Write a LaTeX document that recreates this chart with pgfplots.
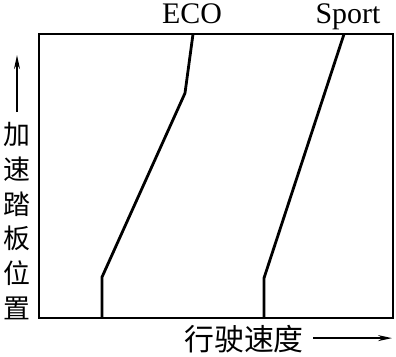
\documentclass[border=0pt]{standalone}
\usepackage{fontspec}
\setmainfont{Liberation Serif}
\newfontfamily\cjk{Noto Sans CJK SC}
\usepackage{pgfplots}
\pgfplotsset{compat=1.18}
\usetikzlibrary{arrows.meta}
\begin{document}
\begin{tikzpicture}
\begin{axis}[
  at={(0,0)}, anchor=origin,
  scale only axis, width=354bp, height=284bp,
  xmin=0, xmax=354, ymin=0, ymax=284,
  axis line style={line width=2bp},
  ticks=none, clip=false,
]
\addplot[black, line width=2.8bp] coordinates {(63,0) (63,41) (146,225) (154,284)};
\addplot[black, line width=2.8bp] coordinates {(225,0) (225,40) (305,284)};
\node[anchor=base, font=\fontsize{30}{32}\selectfont] at (axis cs:153,295) {ECO};
\node[anchor=base, font=\fontsize{30}{32}\selectfont] at (axis cs:309,295) {Sport};
\node[font=\cjk\fontsize{27}{34.8}\selectfont, align=center, inner sep=0pt] at (axis cs:-22,97) {加\\速\\踏\\板\\位\\置};
\draw[line width=1.5bp, -{Stealth[length=14bp,width=6bp]}] (axis cs:-22,206) -- (axis cs:-22,263);
\node[font=\cjk\fontsize{30}{32}\selectfont, inner sep=0pt] at (axis cs:205,-21) {行驶速度};
\draw[line width=1.5bp, -{Stealth[length=14bp,width=6bp]}] (axis cs:274,-20) -- (axis cs:353,-20);
\end{axis}
\path[use as bounding box] (-39bp,-38bp) rectangle (357bp,318bp);
\end{tikzpicture}
\end{document}
